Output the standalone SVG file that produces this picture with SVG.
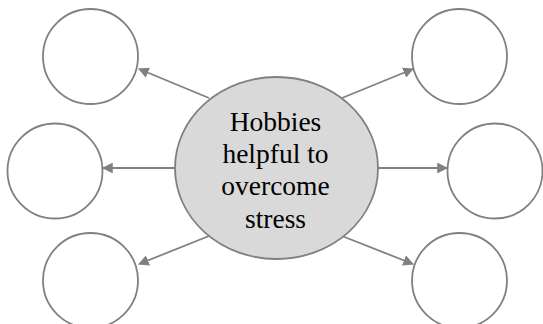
<svg xmlns="http://www.w3.org/2000/svg" width="543" height="324" viewBox="0 0 543 324">
<style>
.leaf{fill:#ffffff;stroke:#808080;stroke-width:1.8}
.hub{fill:#d9d9d9;stroke:#808080;stroke-width:1.8}
.conn{stroke:#808080;stroke-width:1.8;fill:none;marker-end:url(#ah)}
.lbl{font-family:"Liberation Serif","Times New Roman",serif;font-size:27.5px;fill:#000;text-anchor:middle}
</style>
<defs>
<marker id="ah" viewBox="0 0 10 10" refX="9" refY="5" markerWidth="6" markerHeight="6" markerUnits="strokeWidth" orient="auto">
<path d="M0,0 L10,5 L0,10 z" fill="#808080"/>
</marker>
</defs>
<rect width="543" height="324" fill="#ffffff"/>
<g id="connectors">
<line class="conn" x1="209" y1="98" x2="139" y2="69"/>
<line class="conn" x1="342" y1="98" x2="413" y2="69"/>
<line class="conn" x1="175" y1="168" x2="103" y2="168"/>
<line class="conn" x1="378" y1="168" x2="447" y2="168"/>
<line class="conn" x1="209" y1="236" x2="139" y2="264"/>
<line class="conn" x1="342" y1="236" x2="413" y2="264"/>
</g>
<g id="leaf-top-left"><circle class="leaf" cx="90.5" cy="56.5" r="47.5"/></g>
<g id="leaf-top-right"><circle class="leaf" cx="459.5" cy="56.5" r="47.5"/></g>
<g id="leaf-mid-left"><circle class="leaf" cx="55" cy="171" r="47.5"/></g>
<g id="leaf-mid-right"><circle class="leaf" cx="495" cy="171" r="47.5"/></g>
<g id="leaf-bottom-left"><circle class="leaf" cx="90.5" cy="280.5" r="47.5"/></g>
<g id="leaf-bottom-right"><circle class="leaf" cx="459.5" cy="280.5" r="47.5"/></g>
<g id="hub">
<ellipse class="hub" cx="276.5" cy="168" rx="101.5" ry="91"/>
<text class="lbl" x="275.5" y="131">Hobbies</text>
<text class="lbl" x="275.5" y="163">helpful to</text>
<text class="lbl" x="275.5" y="195">overcome</text>
<text class="lbl" x="275.5" y="227.5">stress</text>
</g>
</svg>
